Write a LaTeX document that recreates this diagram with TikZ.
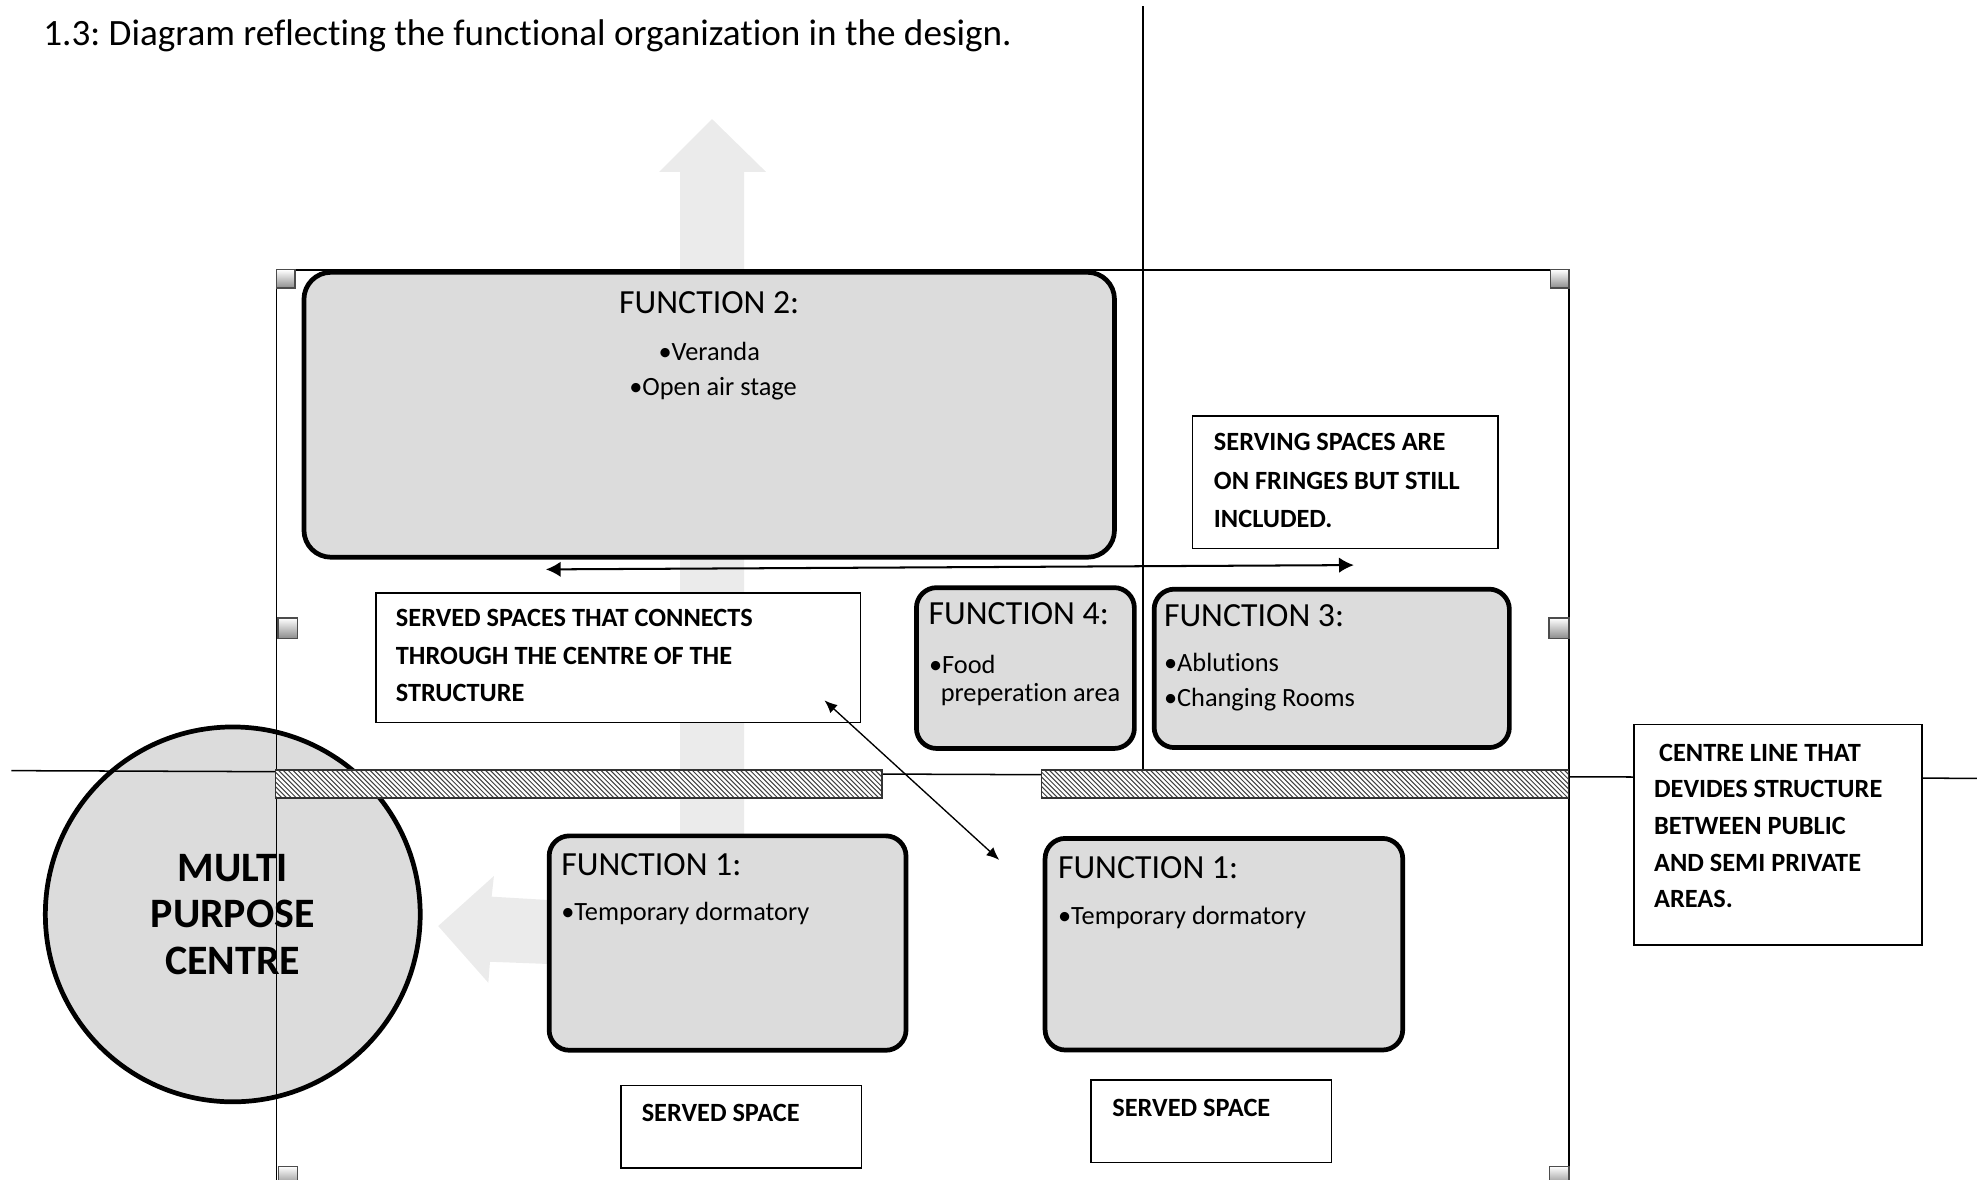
\documentclass[tikz,border=0pt]{standalone}
\usepackage{fontspec}
\setmainfont{Carlito}[Ligatures=CommonOff]
\usepackage{xcolor}
\usetikzlibrary{shapes,backgrounds,positioning,fit,arrows.meta}
\definecolor{boxgray}{RGB}{220,220,220}
\definecolor{arrowgray}{RGB}{235,235,235}
\frenchspacing

\begin{document}
\begin{tikzpicture}[x=0.375pt, y=-0.375pt]
            \tikzstyle{fnbox} = [draw=black, line width=1.4pt, fill=boxgray, rounded corners=6pt, inner sep=0pt]
            \tikzstyle{notebox} = [draw=black, line width=0.5pt, fill=white, inner sep=0pt]
            \tikzstyle{guide} = [draw=black, line width=0.45pt]
            \tikzstyle{handle} = [draw=black!70, line width=0.4pt, top color=white, bottom color=black!45]
            \tikzstyle{wall} = [draw=black!80, line width=0.4pt]
            \tikzstyle{hatch} = [draw=black!75, line width=0.3pt]
            \tikzstyle{fnhead} = [anchor=base west, inner sep=0pt, font=\fontsize{10}{12}\selectfont]
            \tikzstyle{fnitem} = [anchor=base west, inner sep=0pt, font=\fontsize{7.8}{9}\selectfont]
            \tikzstyle{note} = [anchor=base west, inner sep=0pt, font=\bfseries\fontsize{7.8}{9}\selectfont]
            \tikzstyle{link} = [{Latex[length=4.4pt,width=4.6pt]}-{Latex[length=4.4pt,width=4.6pt]}, line width=0.6pt]
            \tikzstyle{cross} = [{Latex[length=3.8pt,width=3.2pt]}-{Latex[length=3.8pt,width=3.2pt]}, line width=0.4pt]
            \useasboundingbox (0,0) rectangle (1565,931.7);

            \node[anchor=base west, inner sep=0pt, font=\fontsize{11}{13}\selectfont] (title) at (33.7,36.3) {1.3: Diagram reflecting the functional organization in the design.};

            % movement arrows behind everything
            \fill[arrowgray] (562.2,94) -- (604.9,135.8) -- (587.5,135.8) -- (587.5,662) -- (537,662) -- (537,135.8) -- (520.4,135.8) -- cycle;
            \fill[arrowgray] (346,731.2) -- (390,691.7) -- (388.2,708) -- (434,710.7) -- (434,761.2) -- (386.9,759.4) -- (385.6,776) -- cycle;

            \node[circle, draw=black, line width=1.4pt, fill=boxgray, minimum size=111pt, align=center, font=\bfseries\fontsize{12.4}{13.8}\selectfont] (mpc) at (183.8,722) {MULTI\\PURPOSE\\CENTRE};

            % site frame and centre lines
            \draw[guide] (218.5,213) -- (1239,213);
            \draw[guide] (218.5,213) -- (218.5,935);
            \draw[guide] (1239,213) -- (1239,935);
            \draw[guide] (902.5,5) -- (902.5,610);
            \draw[guide] (9,608.5) -- (1561,614.6);

            \draw[handle] (218.5,213) rectangle (233,227.5);
            \draw[handle] (1224.5,213) rectangle (1239,227.5);
            \draw[handle] (219.5,488) rectangle (235,504);
            \draw[handle] (1223,488) rectangle (1239,504);
            \draw[handle] (220,921) rectangle (235,936);
            \draw[handle] (1223.5,921) rectangle (1239,936);

            % hatched centre walls
            \begin{scope}
                \clip (217.5,608) rectangle (696.5,630);
                \fill[white] (217.5,608) rectangle (696.5,630);
                \foreach \x in {193,196.8,...,700} \draw[hatch] (\x,608) -- ++(22,22);
            \end{scope}
            \begin{scope}
                \clip (822.5,608) rectangle (1238.5,630);
                \fill[white] (822.5,608) rectangle (1238.5,630);
                \foreach \x in {798,801.8,...,1242} \draw[hatch] (\x,608) -- ++(22,22);
            \end{scope}
            \draw[wall] (217.5,608) rectangle (696.5,630);
            \draw[wall] (822.5,608) rectangle (1238.5,630);

            % functions
            \node[fnbox, rounded corners=8pt, fit={(240,215) (880,440)}] (f2) {};
            \node[fnbox, fit={(723.6,464) (895.7,591)}] (f4) {};
            \node[fnbox, fit={(911.3,465.2) (1191.8,590.3)}] (f3) {};
            \node[fnbox, fit={(433.6,660) (715.4,829.3)}] (f1a) {};
            \node[fnbox, fit={(825.2,662) (1107.6,829.1)}] (f1b) {};

            \node[fnhead, anchor=base] (f2h) at (560,247.4) {FUNCTION 2:};
            \node[fnitem, anchor=base] (f2a) at (560,284.3) {\textbullet Veranda};
            \node[fnitem, anchor=base] (f2b) at (563,311.9) {\textbullet Open air stage};
            \node[fnhead] (f4h) at (732.8,493.5) {FUNCTION 4:};
            \node[fnitem] (f4a) at (733,531.7) {\textbullet Food};
            \node[fnitem] (f4b) at (742.3,554) {preperation area};
            \node[fnhead] (f3h) at (918.6,494.3) {FUNCTION 3:};
            \node[fnitem] (f3a) at (918.6,530.4) {\textbullet Ablutions};
            \node[fnitem] (f3b) at (918.6,557.5) {\textbullet Changing Rooms};
            \node[fnhead] (f1ah) at (442.7,691) {FUNCTION 1:};
            \node[fnitem] (f1aa) at (442.7,726.5) {\textbullet Temporary dormatory};
            \node[fnhead] (f1bh) at (834.9,693.6) {FUNCTION 1:};
            \node[fnitem] (f1ba) at (834.9,729.6) {\textbullet Temporary dormatory};

            % notes
            \node[notebox, fit={(297,468) (679.5,570.5)}] (served) {};
            \node[note] (served1) at (312.1,494.8) {SERVED SPACES THAT CONNECTS};
            \node[note] (served2) at (312.1,524.6) {THROUGH THE CENTRE OF THE};
            \node[note] (served3) at (312.1,554) {STRUCTURE};
            \node[notebox, fit={(941.7,328.4) (1183,433)}] (serving) {};
            \node[note] (serving1) at (958,356.1) {SERVING SPACES ARE};
            \node[note] (serving2) at (958,386.4) {ON FRINGES BUT STILL};
            \node[note] (serving3) at (958,416.7) {INCLUDED.};
            \node[notebox, fit={(1290,572) (1517.5,746.3)}] (centre) {};
            \node[note] (centre1) at (1309.5,601) {CENTRE LINE THAT};
            \node[note] (centre2) at (1305.5,629.9) {DEVIDES STRUCTURE};
            \node[note] (centre3) at (1305.5,658.8) {BETWEEN PUBLIC};
            \node[note] (centre4) at (1305.5,687.8) {AND SEMI PRIVATE};
            \node[note] (centre5) at (1305.5,716.7) {AREAS.};
            \node[notebox, fit={(490.3,857) (680.3,922)}] (spaceA) {};
            \node[note] (spaceA1) at (506.2,885.2) {SERVED SPACE};
            \node[notebox, fit={(861.4,853) (1051.3,918)}] (spaceB) {};
            \node[note] (spaceB1) at (877.8,881.2) {SERVED SPACE};

            \coordinate (linkL) at (431,449.6);
            \coordinate (linkR) at (1069,446.2);
            \draw[link] (linkL) -- (linkR);
            \coordinate (crossA) at (651,553);
            \coordinate (crossB) at (789,679);
            \draw[cross] (crossA) -- (crossB);
        \end{tikzpicture}
\end{document}
